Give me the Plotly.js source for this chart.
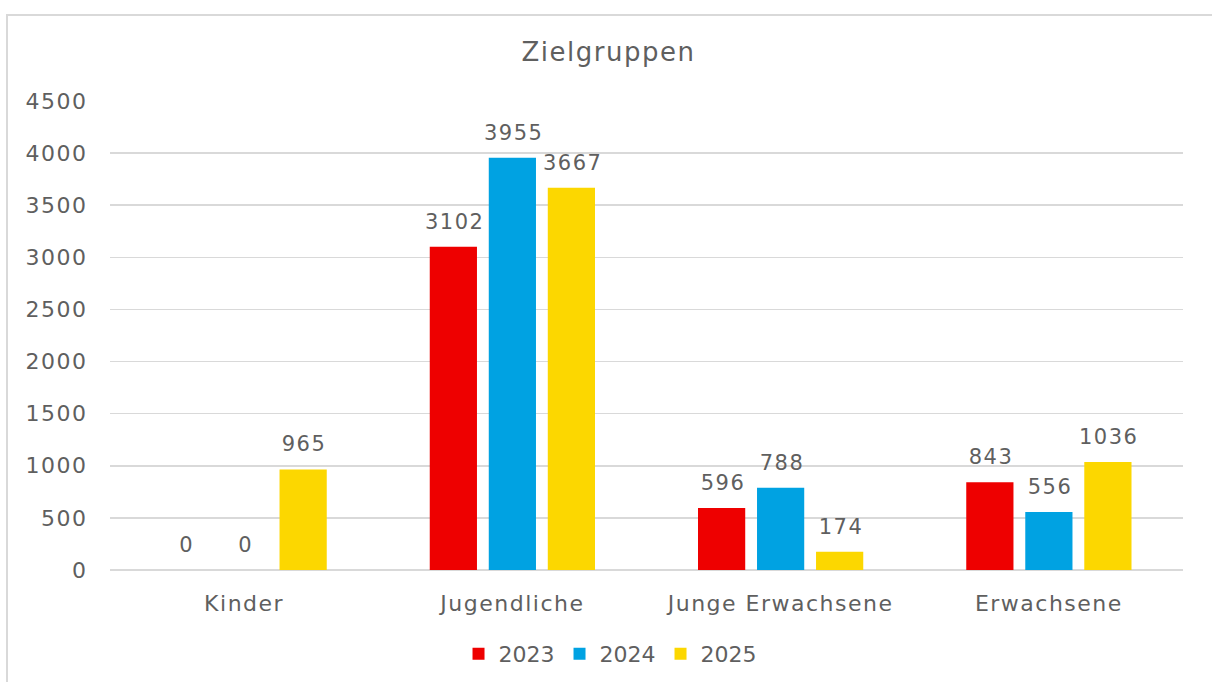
<!DOCTYPE html>
<html><head><meta charset="utf-8">
<script src="https://cdn.plot.ly/plotly-3.0.1.min.js"></script>
<style>
html,body{margin:0;padding:0;background:#fff;overflow:hidden;}
#frame{position:absolute;left:6px;top:14px;width:1300px;height:800px;border:2px solid #d9d9d9;box-sizing:border-box;}
#chart{position:absolute;left:0;top:0;width:1212px;height:682px;}
#chart text{letter-spacing:1.5px;}
#chart .legend text{letter-spacing:0;}
</style></head>
<body>
<div id="frame"></div>
<div id="chart"></div>
<script>
const categories = ["Kinder", "Jugendliche", "Junge Erwachsene", "Erwachsene"];
const seriesNames = ["2023", "2024", "2025"];
const values2023 = [0, 3102, 596, 843];
const values2024 = [0, 3955, 788, 556];
const values2025 = [965, 3667, 174, 1036];
const colors = ["#ee0000", "#00a2e2", "#fcd700"];
const yTicks = [0, 500, 1000, 1500, 2000, 2500, 3000, 3500, 4000, 4500];

const font = "'DejaVu Sans', sans-serif";
const txtColor = "#5f5f5f";
const allVals = [values2023, values2024, values2025];
const traces = allVals.map((v, i) => ({
  type: "bar", name: seriesNames[i], x: categories, y: v,
  marker: {color: colors[i]},
  hoverinfo: "none"
}));

// data labels as annotations over each bar (grouped offsets)
const groupSpacing = 0.22; // category units between bar centres
const annotations = [];
allVals.forEach((v, i) => {
  v.forEach((val, j) => {
    annotations.push({
      xref: "x", yref: "y", x: j + (i - 1) * groupSpacing, y: val,
      text: String(val), showarrow: false, yanchor: "bottom", yshift: 11, xshift: 1,
      font: {family: font, size: 21, color: txtColor}
    });
  });
});

const layout = {
  width: 1212, height: 682,
  paper_bgcolor: "rgba(0,0,0,0)", plot_bgcolor: "rgba(0,0,0,0)",
  margin: {l: 110, r: 29, t: 101, b: 112, autoexpand: false},
  barmode: "group", bargap: 0.34, bargroupgap: 0.2,
  font: {family: font, color: txtColor},
  title: {text: "Zielgruppen", font: {family: font, size: 26, color: txtColor},
          xref: "container", yref: "container", x: 0.502, y: 1 - 52/682, xanchor: "center", yanchor: "middle"},
  xaxis: {tickfont: {family: font, size: 22, color: txtColor}, showline: false, showgrid: false,
          ticks: "outside", ticklen: 14, tickcolor: "rgba(0,0,0,0)", fixedrange: true},
  yaxis: {range: [0, 4500], tickvals: yTicks, ticktext: yTicks.map(String),
          tickfont: {family: font, size: 22, color: txtColor},
          gridcolor: "#d9d9d9", gridwidth: 1.5, zeroline: true, zerolinecolor: "#d9d9d9", zerolinewidth: 1.5,
          showline: false, ticks: "outside", ticklen: 17, tickcolor: "rgba(0,0,0,0)", fixedrange: true},
  annotations: annotations,
  showlegend: true,
  legend: {orientation: "h", x: 0.466, xanchor: "center", y: (570 - 654) / 469, yanchor: "middle",
           font: {family: font, size: 22, color: txtColor}, itemwidth: 30, traceorder: "normal"}
};
Plotly.newPlot("chart", traces, layout, {displayModeBar: false, staticPlot: true});
</script>
</body></html>
